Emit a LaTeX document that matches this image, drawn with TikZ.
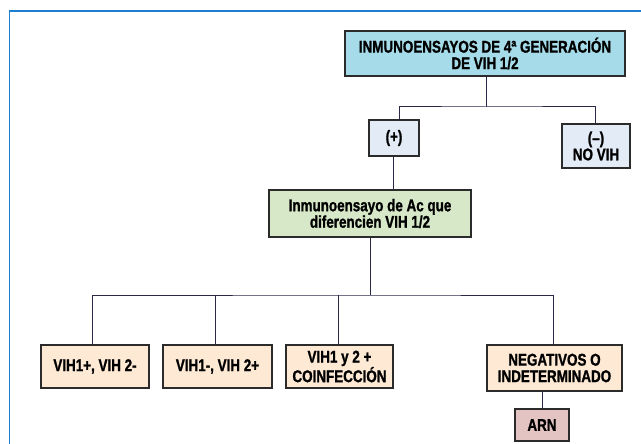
\documentclass[tikz,border=0pt]{standalone}
\usepackage{fontspec}
\setmainfont{Liberation Sans}[FakeStretch=0.79,BoldFeatures={FakeBold=1.2}]
\definecolor{framec}{HTML}{1E7FD0}
\definecolor{topc}{HTML}{A6DCE9}
\definecolor{bluec}{HTML}{E3ECF6}
\definecolor{greenc}{HTML}{D6E8C8}
\definecolor{peachc}{HTML}{FDE9D4}
\definecolor{pinkc}{HTML}{E3C4C2}
\definecolor{edgec}{HTML}{2B2B2B}
\definecolor{linec}{HTML}{2A2A48}
\begin{document}
\begin{tikzpicture}[x=1pt,y=-1pt,
  box/.style={draw=edgec,line width=1.3pt,inner sep=0pt,align=center,
    font=\bfseries\fontsize{17}{16.5}\selectfont,text=black},
  conn/.style={draw=linec,line width=1pt}]
\useasboundingbox (0,0) rectangle (641,444);
\draw[framec,line width=1.6pt] (9.3,444) -- (9.3,11.3) -- (641,11.3);
\node[box,fill=topc,minimum width=280,minimum height=45] (top) at (485,53.5)
  {INMUNOENSAYOS DE 4ª GENERACIÓN\\DE VIH 1/2};
\node[box,fill=bluec,minimum width=50,minimum height=36] (pos) at (394,138) {(+)};
\node[box,fill=bluec,minimum width=68,minimum height=44] (neg) at (596,146) {(--)\\NO VIH};
\node[box,fill=greenc,minimum width=202,minimum height=47] (ac) at (370,213.5)
  {Inmunoensayo de Ac que\\diferencien VIH 1/2};
\node[box,fill=peachc,minimum width=108,minimum height=43] (b1) at (95,366.5) {VIH1+, VIH 2-};
\node[box,fill=peachc,minimum width=109,minimum height=43] (b2) at (217.5,366.5) {VIH1-, VIH 2+};
\node[box,fill=peachc,minimum width=107,minimum height=43] (b3) at (339.5,366.5) {VIH1 y 2 +\\COINFECCIÓN};
\node[box,fill=peachc,minimum width=135,minimum height=46] (b4) at (554.5,368) {NEGATIVOS O\\INDETERMINADO};
\node[box,fill=pinkc,minimum width=54,minimum height=32] (arn) at (542,425) {ARN};
\coordinate (j1) at (486,107);
\coordinate (j2) at (370,295);
\draw[conn] (top.south -| j1) -- (j1);
\draw[conn] (pos.north -| 399,0) |- (j1) -| (neg.north -| 595,0);
\draw[conn] (pos.south -| 393,0) -- (ac.north -| 393,0);
\draw[conn] (ac.south -| j2) -- (j2);
\draw[conn] (b1.north -| 92,0) |- (j2) -| (b4.north -| 553,0);
\draw[conn] (b2.north -| 215,0) -- (j2 -| 215,0);
\draw[conn] (b3.north -| 338,0) -- (j2 -| 338,0);
\draw[conn] (b4.south -| arn.north) -- (arn.north);
\end{tikzpicture}
\end{document}
